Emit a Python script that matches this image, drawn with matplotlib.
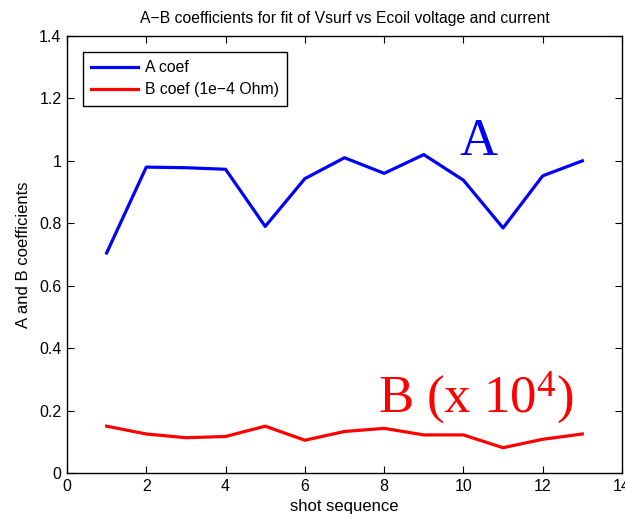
import matplotlib
matplotlib.use("Agg")
import matplotlib.pyplot as plt
import numpy as np

plt.rcParams['font.family'] = ['Liberation Sans', 'DejaVu Sans']
plt.rcParams['mathtext.default'] = 'regular'

# shot sequence and fitted coefficients
shots = np.arange(1, 14)
a_coef = [0.705, 0.980, 0.978, 0.973, 0.790, 0.943, 1.010, 0.960, 1.020, 0.938, 0.785, 0.952, 1.000]
b_coef = [0.150, 0.125, 0.113, 0.117, 0.150, 0.105, 0.133, 0.143, 0.122, 0.122, 0.081, 0.108, 0.125]

fig = plt.figure(figsize=(6.25, 5.14), dpi=100)
ax = fig.add_axes([67/625, 1 - 473/514, 555/625, 437/514])

ax.plot(shots, a_coef, color='#0000ff', lw=2.3, label='A coef')
ax.plot(shots, b_coef, color='#ff0000', lw=2.3, label='B coef (1e\u22124 Ohm)')

ax.set_xlim(0, 14)
ax.set_ylim(0, 1.4)
ax.set_xticks(np.arange(0, 15, 2))
ax.set_yticks(np.arange(0, 1.41, 0.2))
ax.set_yticklabels(['0', '0.2', '0.4', '0.6', '0.8', '1', '1.2', '1.4'])
ax.tick_params(direction='in', top=True, right=True, length=5, labelsize=11.5, width=0.8, pad=4)
for s in ax.spines.values():
    s.set_linewidth(1.0)

ax.set_xlabel('shot sequence', fontsize=12, labelpad=4)
ax.set_ylabel('A and B coefficients', fontsize=12, labelpad=6)
ax.set_title('A\u2212B coefficients for fit of Vsurf vs Ecoil voltage and current', fontsize=11.3, pad=9)

leg = ax.legend(loc='upper left', fontsize=11.3, fancybox=False, edgecolor='black',
                framealpha=1, handlelength=3.0, handletextpad=0.4, borderaxespad=1.0,
                labelspacing=0.45, borderpad=0.55)
leg.get_frame().set_linewidth(1.0)

ax.text(10.37, 1.019, 'A', color='#0000ff', fontsize=38, family='Liberation Serif',
        ha='center', va='baseline')
ax.text(7.85, 0.196, 'B (x 10$^4$)', color='#ff0000', fontsize=38, family='Liberation Serif',
        ha='left', va='baseline')

plt.savefig('out.png', dpi=100)
